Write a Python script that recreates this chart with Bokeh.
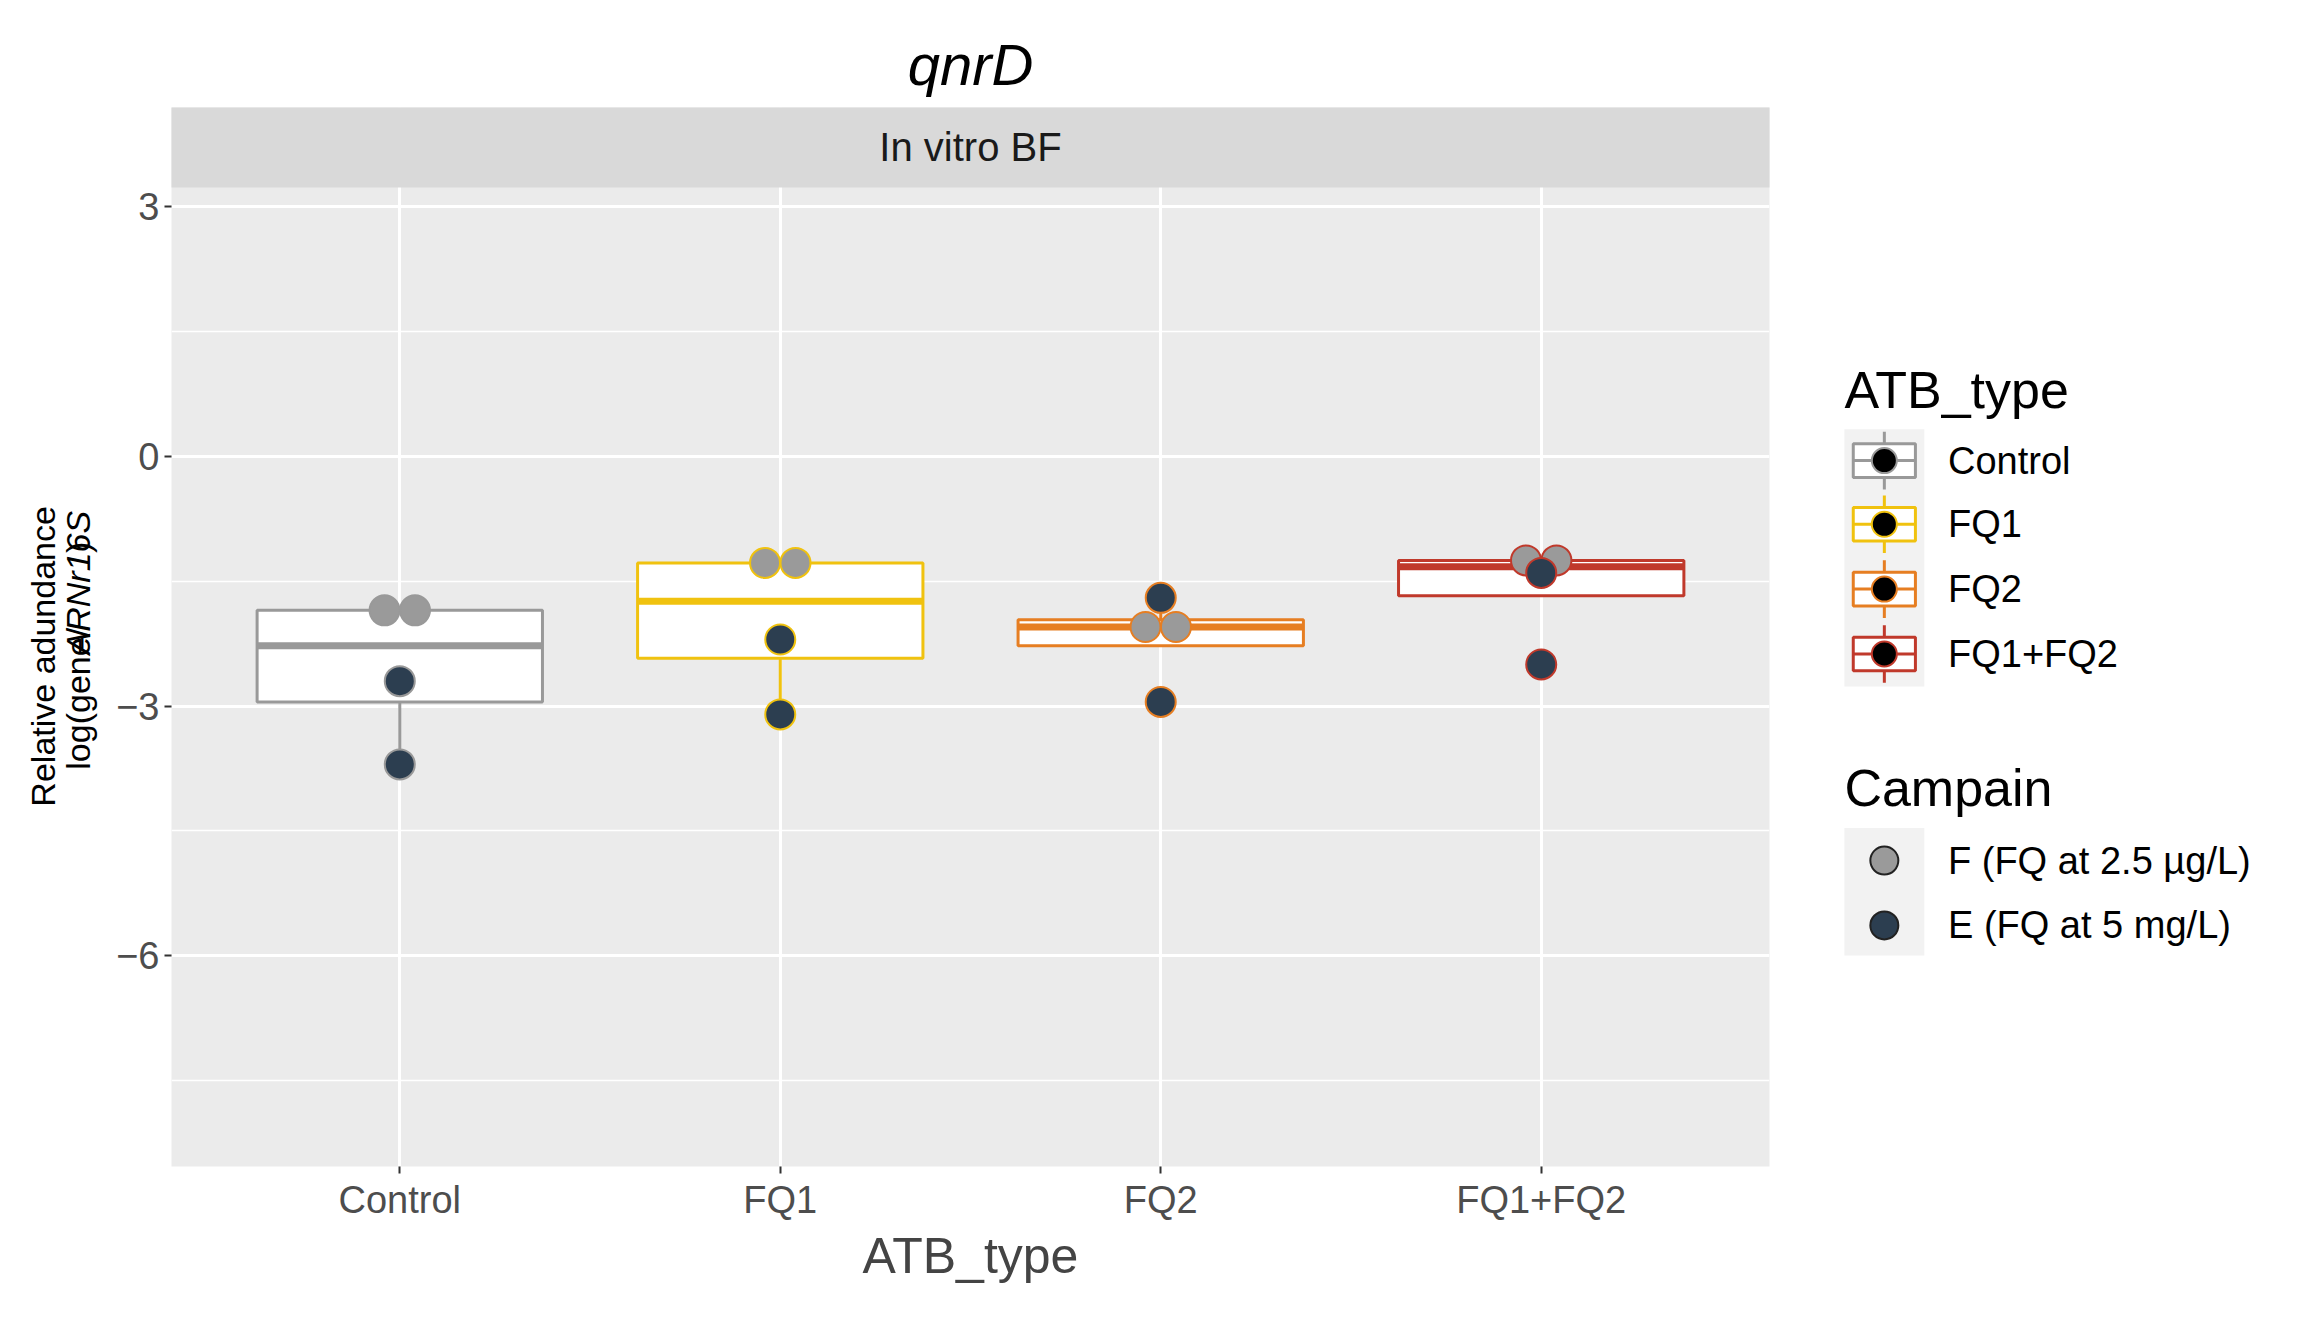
import numpy as np
from bokeh.plotting import figure
from bokeh.layouts import row
from bokeh.models import FixedTicker, Range1d
from bokeh.core.properties import value
from bokeh.embed import file_html
from bokeh.resources import INLINE

# data
atb_types = ["Control", "FQ1", "FQ2", "FQ1+FQ2"]
atb_colors = ["#999999", "#F0C20F", "#E67E22", "#C0392B"]
campains = ["F (FQ at 2.5 µg/L)", "E (FQ at 5 mg/L)"]
campain_colors = ["#9A9A9A", "#2C3E50"]
vals_F = [[-1.85, -1.85], [-1.28, -1.28], [-2.05, -2.05], [-1.25, -1.25]]
vals_E = [[-2.7, -3.7], [-2.2, -3.1], [-1.7, -2.95], [-1.4, -2.5]]
jitter_F = [-0.04, 0.04]

S = 1.48
FONT = "Liberation Sans"
H = 1305

# ---------- main panel ----------
p = figure(width=1694, height=H, output_backend="svg", toolbar_location=None,
           x_range=Range1d(0.4, 4.6), y_range=Range1d(-8.53, 4.19),
           min_border_left=67, min_border_right=29, min_border_bottom=139,
           min_border_top=107, title="qnrD")
p.title.text_font = FONT
p.title.text_font_style = "italic"
p.title.text_font_size = "58px"
p.title.align = "center"
p.title.text_color = "black"
p.title.standoff = 22
p.background_fill_color = "#EBEBEB"
p.border_fill_color = "white"
p.outline_line_color = None

p.xaxis.ticker = FixedTicker(ticks=[1, 2, 3, 4])
p.xaxis.major_label_overrides = {i + 1: t for i, t in enumerate(atb_types)}
p.yaxis.ticker = FixedTicker(ticks=[-6, -3, 0, 3], minor_ticks=[-7.5, -4.5, -1.5, 1.5])
p.xgrid.ticker = FixedTicker(ticks=[1, 2, 3, 4])
for ax in (p.xaxis[0], p.yaxis[0]):
    ax.axis_line_color = None
    ax.major_tick_line_color = "#333333"
    ax.major_tick_line_width = 2
    ax.major_tick_out = 7
    ax.major_tick_in = 0
    ax.minor_tick_line_color = None
    ax.major_label_text_font = FONT
    ax.major_label_text_font_size = "38px"
    ax.major_label_text_color = "#4D4D4D"
p.xaxis.axis_label = "ATB_type"
p.xaxis.axis_label_text_font = FONT
p.xaxis.axis_label_text_font_size = "50px"
p.xaxis.axis_label_text_font_style = "normal"
p.xaxis.axis_label_standoff = 4
p.grid.grid_line_color = "white"
p.grid.grid_line_width = 3
p.ygrid.minor_grid_line_color = "white"
p.ygrid.minor_grid_line_width = 1.5

# strip
p.quad(left=0.4, right=4.6, bottom=3.23, top=4.19, fill_color="#D9D9D9",
       line_color=None, level="overlay")
p.text(x=[2.5], y=[3.71], text=["In vitro BF"], text_align="center",
       text_baseline="middle", text_font=value(FONT), text_font_size="40px",
       text_color="#1A1A1A", level="overlay")

for i, name in enumerate(atb_types):
    x = i + 1
    c = atb_colors[i]
    d = np.array(vals_F[i] + vals_E[i])
    q1, med, q3 = np.percentile(d, [25, 50, 75])
    iqr = q3 - q1
    inside = d[(d >= q1 - 1.5 * iqr) & (d <= q3 + 1.5 * iqr)]
    lo, hi = inside.min(), inside.max()
    p.segment(x0=[x, x], y0=[lo, q3], x1=[x, x], y1=[q1, hi], line_color=c, line_width=3)
    p.quad(left=x - 0.375, right=x + 0.375, bottom=q1, top=q3,
           fill_color="white", line_color=c, line_width=3)
    p.segment(x0=[x - 0.375], y0=[med], x1=[x + 0.375], y1=[med], line_color=c, line_width=7)
    p.scatter(x=[x + j for j in jitter_F], y=vals_F[i], size=30,
              fill_color=campain_colors[0], line_color=c, line_width=2)
    p.scatter(x=[x, x], y=vals_E[i], size=30,
              fill_color=campain_colors[1], line_color=c, line_width=2)

# ---------- y axis label ----------
lf = figure(width=104, height=H, output_backend="svg", toolbar_location=None,
            x_range=Range1d(0, 104), y_range=Range1d(0, H), min_border=0)
lf.axis.visible = False
lf.grid.visible = False
lf.outline_line_color = None
lf.text(x=[42], y=[H - 457 * S], text=["Relative adundance"], angle=np.pi / 2,
        text_align="center", text_baseline="middle", text_font=value(FONT),
        text_font_size="34px", text_color="black")
lf.text(x=[77, 77, 77], y=[489, 631, 756],
        text=["log(gene/", "ARNr16S", ")"], angle=np.pi / 2,
        text_align="left", text_baseline="middle", text_font=value(FONT),
        text_font_size="34px", text_color="black",
        text_font_style=["normal", "italic", "normal"])

# ---------- legend ----------
lg = figure(width=496, height=H, output_backend="svg", toolbar_location=None,
            x_range=Range1d(0, 496), y_range=Range1d(0, H), min_border=0)
lg.axis.visible = False
lg.grid.visible = False
lg.outline_line_color = None

def LX(xd):
    return (xd - 1215) * S

def LY(yd):
    return H - yd * S

lg.text(x=[LX(1246), LX(1246)], y=[LY(235), LY(567)], text=["ATB_type", "Campain"],
        text_baseline="middle", text_font=value(FONT), text_font_size="52px")
lg.quad(left=LX(1246), right=LX(1300), top=LY(268), bottom=LY(482),
        fill_color="#F2F2F2", line_color=None)
lg.quad(left=LX(1246), right=LX(1300), top=LY(600), bottom=LY(706),
        fill_color="#F2F2F2", line_color=None)
key_y = [294, 347, 401, 455]
kx = LX(1273)
for i, name in enumerate(atb_types):
    yc = LY(key_y[i])
    c = atb_colors[i]
    lg.segment(x0=[kx], y0=[yc - 24 * S], x1=[kx], y1=[yc + 24 * S], line_color=c, line_width=3)
    lg.quad(left=LX(1252), right=LX(1294), bottom=yc - 14 * S, top=yc + 14 * S,
            fill_color="white", line_color=c, line_width=3)
    lg.segment(x0=[LX(1252)], y0=[yc], x1=[LX(1294)], y1=[yc], line_color=c, line_width=3)
    lg.scatter(x=[kx], y=[yc], size=25, fill_color="black", line_color=c, line_width=2)
    lg.text(x=[LX(1316)], y=[yc], text=[name], text_baseline="middle",
            text_font=value(FONT), text_font_size="38px")
for i, name in enumerate(campains):
    yc = LY([627, 681][i])
    lg.scatter(x=[kx], y=[yc], size=28, fill_color=campain_colors[i],
               line_color="#222222", line_width=2)
    lg.text(x=[LX(1316)], y=[yc], text=[name], text_baseline="middle",
            text_font=value(FONT), text_font_size="38px")

layout = row(lf, p, lg)
open("out.html", "w").write(file_html(layout, INLINE))
